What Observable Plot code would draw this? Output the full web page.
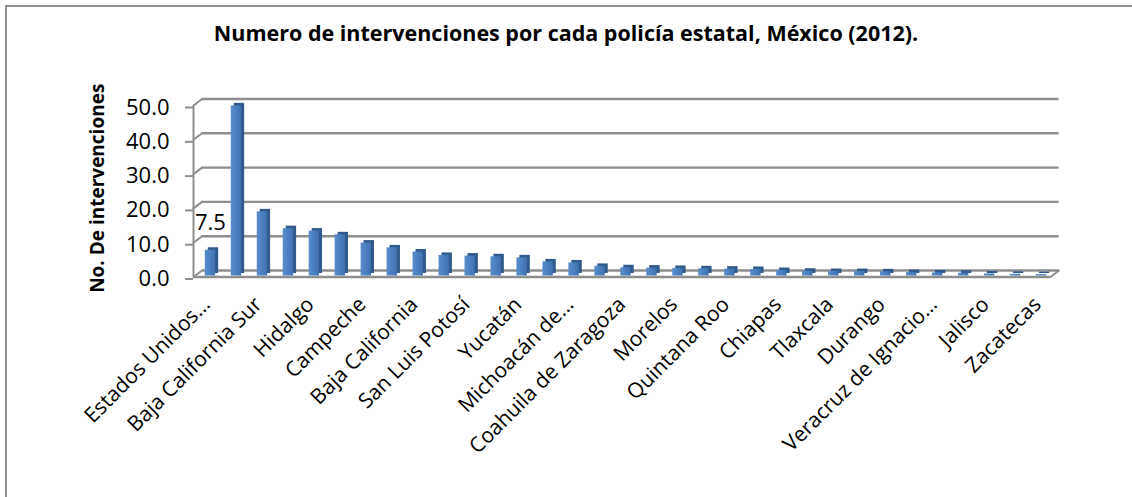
<!DOCTYPE html>
<html>
<head>
<meta charset="utf-8">
<script src="https://cdn.jsdelivr.net/npm/d3@7"></script>
<script src="https://cdn.jsdelivr.net/npm/@observablehq/plot@0.6"></script>
<style>
  html, body { margin: 0; padding: 0; background: #fff; overflow: hidden; }
  #page { position: relative; width: 1132px; height: 497px; overflow: hidden; font-family: "Open Sans", sans-serif; }
  #border { position: absolute; left: 5px; top: 5px; width: 1400px; height: 700px; border: 2px solid #8f8f8f; box-sizing: border-box; }
  #title { position: absolute; left: 0; top: 20px; width: 1132px; text-align: center; font-weight: bold; font-size: 21.5px; line-height: 26px; color: #000; }
  #chart { position: absolute; left: 0; top: 60px; }
</style>
</head>
<body>
<div id="page">
  <div id="border"></div>
  <div id="title">Numero de intervenciones por cada policía estatal, México (2012).</div>
  <div id="chart"></div>
</div>
<script>
// ---- data ----
const states = [
  "Estados Unidos Mexicanos", "Aguascalientes", "Baja California Sur", "Colima", "Hidalgo",
  "Sonora", "Campeche", "Distrito Federal", "Baja California", "Nuevo León",
  "San Luis Potosí", "Tabasco", "Yucatán", "Querétaro", "Michoacán de Ocampo",
  "Sinaloa", "Coahuila de Zaragoza", "Chihuahua", "Morelos", "Guanajuato",
  "Quintana Roo", "Puebla", "Chiapas", "Oaxaca", "Tlaxcala",
  "Tamaulipas", "Durango", "Guerrero", "Veracruz de Ignacio de la Llave", "México",
  "Jalisco", "Nayarit", "Zacatecas"
];
const values = [
  7.5, 49.6, 18.7, 13.8, 13.1,
  12.0, 9.6, 8.2, 7.0, 6.0,
  5.8, 5.6, 5.3, 4.1, 3.8,
  2.8, 2.4, 2.3, 2.2, 2.1,
  2.0, 1.9, 1.6, 1.4, 1.3,
  1.3, 1.2, 1.0, 0.9, 0.8,
  0.6, 0.5, 0.4
];
const axisLabels = [
  "Estados Unidos…", "Baja California Sur", "Hidalgo", "Campeche", "Baja California",
  "San Luis Potosí", "Yucatán", "Michoacán de…", "Coahuila de Zaragoza", "Morelos",
  "Quintana Roo", "Chiapas", "Tlaxcala", "Durango", "Veracruz de Ignacio…",
  "Jalisco", "Zacatecas"
];
const yTicks = [0, 10, 20, 30, 40, 50];
const labeledIndex = [0];
const yTitle = "No. De intervenciones";

// ---- build ----
const data = states.map((s, i) => ({state: s, value: values[i]}));
const shownTicks = states.filter((_, i) => i % 2 === 0);

const W = 1132, H = 437, mL = 193, mR = 82, mT = 45, mB = 220.5;
const step = (W - mL - mR) / states.length;
const depthX = 8.5, depthY = -6.5;
const depthLen = Math.hypot(depthX, depthY);
const depthAngle = Math.atan2(depthX, -depthY) * 180 / Math.PI;
const grid = "#8e8e8e";

const chart = Plot.plot({
  width: W, height: H,
  marginLeft: mL, marginRight: mR, marginTop: mT, marginBottom: mB,
  x: {domain: states, paddingInner: 0.6, paddingOuter: 0.3},
  y: {domain: [0, 50]},
  style: {fontFamily: "Open Sans, sans-serif", background: "transparent", overflow: "visible", color: "#000"},
  marks: [
    Plot.ruleY(yTicks, {stroke: grid, strokeWidth: 2.4, dx: depthX, dy: depthY}),
    Plot.ruleY([0], {stroke: grid, strokeWidth: 2.4}),
    Plot.ruleX([states[0]], {y1: 0, y2: 50, dx: -step / 2, stroke: grid, strokeWidth: 2}),
    Plot.vector(yTicks, {x: () => states[0], y: d => d, dx: -step / 2, length: depthLen, rotate: depthAngle,
      anchor: "start", shape: "spike", r: 0, stroke: grid, strokeWidth: 2, fill: "none"}),
    Plot.vector([0], {x: () => states[states.length - 1], y: d => d, dx: step / 2, length: depthLen, rotate: depthAngle,
      anchor: "start", shape: "spike", r: 0, stroke: grid, strokeWidth: 2, fill: "none"}),
    Plot.barY(data, {x: "state", y: "value", fill: "#30598c", dx: 7, dy: -3.5}),
    Plot.barY(data, {x: "state", y: "value", fill: "url(#barGrad)", dx: 4, dy: -1}),
    Plot.text(labeledIndex.map(i => data[i]), {x: "state", y: "value", text: d => d.value.toFixed(1),
      dx: 4, dy: -28, fontSize: 22, fill: "#000"}),
    Plot.axisY({ticks: yTicks, tickFormat: d3.format(".1f"), tickSize: 8, tickPadding: 16, fontSize: 22,
      stroke: grid, strokeWidth: 2, fill: "#000", dy: 2, label: null}),
    Plot.axisX({ticks: shownTicks, tickFormat: d => axisLabels[states.indexOf(d) / 2], tickRotate: -45,
      tickSize: 0, tickPadding: 24, fontSize: 21, fill: "#000", label: null}),
    Plot.text([yTitle], {frameAnchor: "left", text: d => d, rotate: -90, textAnchor: "middle", dx: -96, dy: -3,
      fontSize: 19, fontWeight: "bold", fill: "#000"})
  ]
});

const ns = "http://www.w3.org/2000/svg";
const defs = document.createElementNS(ns, "defs");
const lg = document.createElementNS(ns, "linearGradient");
lg.setAttribute("id", "barGrad");
lg.setAttribute("x1", "0"); lg.setAttribute("x2", "1"); lg.setAttribute("y1", "0"); lg.setAttribute("y2", "0");
[["0%", "#5a8dcc"], ["55%", "#4a7ebe"], ["100%", "#3f71b0"]].forEach(([o, c]) => {
  const s = document.createElementNS(ns, "stop");
  s.setAttribute("offset", o); s.setAttribute("stop-color", c);
  lg.appendChild(s);
});
defs.appendChild(lg);
chart.insertBefore(defs, chart.firstChild);

document.getElementById("chart").appendChild(chart);
</script>
</body>
</html>
